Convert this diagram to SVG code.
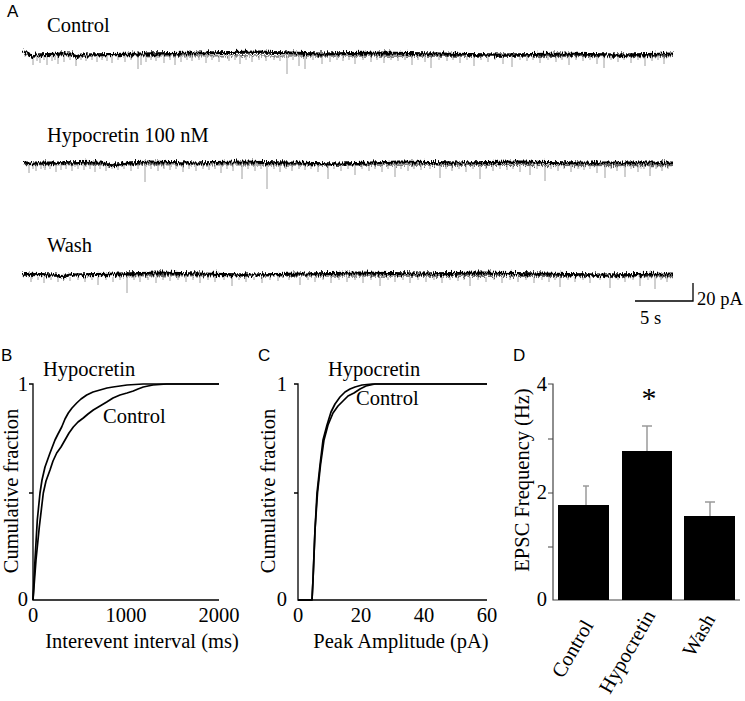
<svg xmlns="http://www.w3.org/2000/svg" width="745" height="701" viewBox="0 0 745 701">
<style>
 .t{font-family:"Liberation Serif","Times New Roman",serif;font-size:20.5px;fill:#000}
 .s{font-size:18.5px}
 .p{font-family:"Liberation Sans",Arial,sans-serif;font-size:17px;fill:#000}
 .ax{stroke:#000;stroke-width:1.3;fill:none}
 .axd{stroke:#444;stroke-width:1.2;fill:none}
 .cv{stroke:#000;stroke-width:1.7;fill:none;stroke-linejoin:round}
 .sp{stroke:#a0a0a0;stroke-width:1;fill:none}
 .tr{stroke:#000;stroke-width:3.1;fill:none}
 .fz{stroke:#666;stroke-width:1.4;fill:none}
 .eb{stroke:#9a9a9a;stroke-width:1.5;fill:none}
</style>
<defs>
 <filter id="jit" filterUnits="userSpaceOnUse" x="0" y="0" width="745" height="701">
  <feTurbulence type="fractalNoise" baseFrequency="1.1 0.15" numOctaves="2" seed="4" result="n"/>
  <feDisplacementMap in="SourceGraphic" in2="n" scale="7" xChannelSelector="R" yChannelSelector="G"/>
 </filter>
</defs>
<rect width="745" height="701" fill="#fff"/>

<g id="panelA">
 <text class="p" x="7" y="17">A</text>
 <text class="t" x="47" y="32">Control</text>
 <text class="t" x="47" y="142">Hypocretin 100 nM</text>
 <text class="t" x="47" y="252">Wash</text>

 <g id="trace1">
  <path class="sp" d="M33,56v9M37,56v5M40,56v7M44,56v4M47,56v9M52,56v5M55,56v4M58,56v8M64,56v6M70,56v4M76,56v10M81,56v4M86,56v5M92,56v4M97,56v6M102,56v4M107,56v5M112,56v7M118,56v4M125,56v6M131,56v4M138,56v13M141,56v9M146,56v6M151,56v4M156,56v5M164,56v7M170,56v4M175,56v9M181,56v6M187,56v4M192,56v5M199,56v4M206,56v7M212,56v4M219,56v6M229,56v5M235,56v4M240,56v8M246,56v4M252,56v6M259,56v4M266,56v5M274,56v4M280,56v5M287,56v18M293,56v4M299,56v10M305,56v13M313,56v4M322,56v8M330,56v6M337,56v4M343,56v5M349,56v4M355,56v8M363,56v4M371,56v6M377,56v4M384,56v7M391,56v4M398,56v5M405,56v4M412,56v9M418,56v4M425,56v6M431,56v12M439,56v4M447,56v5M453,56v4M460,56v7M467,56v4M474,56v10M481,56v4M488,56v6M495,56v4M503,56v8M512,56v11M520,56v4M527,56v5M533,56v4M540,56v7M548,56v4M556,56v6M562,56v4M569,56v9M576,56v4M583,56v5M590,56v4M597,56v8M604,56v12M611,56v4M618,56v6M624,56v4M631,56v7M638,56v4M645,56v10M652,56v5M658,56v4M664,56v8"/>
  <g filter="url(#jit)">
   <path class="fz" d="M23,55.5 L673,56.5"/>
   <path class="tr" d="M23,51 L27,52 L31,57 L35,55 L60,54 L73,54 L77,57 L81,55 L140,54 L200,53 L260,52 L320,54 L380,53 L440,54 L500,55 L560,54 L620,55 L673,54"/>
  </g>
 </g>

 <g id="trace2">
  <path class="sp" d="M29,165v8M33,165v4M36,165v6M41,165v4M45,165v5M50,165v4M56,165v7M61,165v5M66,165v4M72,165v6M78,165v4M84,165v5M90,165v4M95,165v7M100,165v4M106,165v6M112,165v4M118,165v5M124,165v4M131,165v6M138,165v4M145,165v17M151,165v4M158,165v6M164,165v4M170,165v5M176,165v4M183,165v7M189,165v4M196,165v6M203,165v4M209,165v5M215,165v4M221,165v8M227,165v4M233,165v6M242,165v14M248,165v4M255,165v6M261,165v4M267,165v24M274,165v4M280,165v7M286,165v4M292,165v6M299,165v4M305,165v5M311,165v4M318,165v7M328,165v14M334,165v4M341,165v6M348,165v4M355,165v10M362,165v4M369,165v6M375,165v4M382,165v7M388,165v4M395,165v12M401,165v4M408,165v6M414,165v4M421,165v5M430,165v4M440,165v13M446,165v4M452,165v6M459,165v4M466,165v7M473,165v4M480,165v14M486,165v4M493,165v6M500,165v4M507,165v5M513,165v4M520,165v7M530,165v10M537,165v4M545,165v16M551,165v4M558,165v6M564,165v4M571,165v7M578,165v4M584,165v5M590,165v4M597,165v8M605,165v13M611,165v4M617,165v6M625,165v12M631,165v4M638,165v7M644,165v4M650,165v11M656,165v4M662,165v6M668,165v4"/>
  <g filter="url(#jit)">
   <path class="fz" d="M23,164.5 L673,165.5"/>
   <path class="tr" d="M23,163 L60,163 L100,162 L112,166 L125,163 L150,162 L190,163 L240,162 L290,163 L340,164 L400,162 L460,163 L520,162 L580,163 L640,163 L673,163"/>
  </g>
 </g>

 <g id="trace3">
  <path class="sp" d="M31,277v5M38,277v3M44,277v6M51,277v3M58,277v5M64,277v3M70,277v4M78,277v3M85,277v5M92,277v3M98,277v8M106,277v3M113,277v5M120,277v3M127,277v16M134,277v3M140,277v5M148,277v3M156,277v6M163,277v3M170,277v4M178,277v3M186,277v5M193,277v3M200,277v6M208,277v3M215,277v5M224,277v3M232,277v9M239,277v3M246,277v5M254,277v3M262,277v6M270,277v3M278,277v4M289,277v3M300,277v8M308,277v3M315,277v5M323,277v3M331,277v6M339,277v3M347,277v5M355,277v3M363,277v6M371,277v3M380,277v9M388,277v3M395,277v5M403,277v3M410,277v6M418,277v3M426,277v5M434,277v3M442,277v6M450,277v3M458,277v4M464,277v3M470,277v9M478,277v3M486,277v5M494,277v3M502,277v6M510,277v3M518,277v5M526,277v3M534,277v6M542,277v3M549,277v5M555,277v3M560,277v10M568,277v3M575,277v5M583,277v3M590,277v6M600,277v3M610,277v11M618,277v3M625,277v5M633,277v3M640,277v9M648,277v3M655,277v12M661,277v3M667,277v5"/>
  <g filter="url(#jit)">
   <path class="fz" d="M23,275.5 L673,276.5"/>
   <path class="tr" d="M23,274 L55,275 L62,277 L70,275 L120,274 L160,273 L200,274 L250,275 L300,274 L360,273 L420,274 L480,273 L540,274 L600,275 L673,274"/>
  </g>
 </g>
</g>

<g id="scalebar">
 <path class="ax" d="M635,301 H693 V283"/>
 <text class="t s" x="697" y="305">20 pA</text>
 <text class="t s" x="640" y="324">5 s</text>
</g>

<g id="panelB">
 <text class="p" x="1" y="361">B</text>
 <path class="ax" d="M29,384 H33 V600 H219 M29,493 H33"/>
 <text class="t" x="28" y="391" text-anchor="end">1</text>
 <text class="t" x="28" y="606" text-anchor="end">0</text>
 <text class="t" x="33" y="622" text-anchor="middle">0</text>
 <text class="t" x="126" y="622" text-anchor="middle">1000</text>
 <text class="t" x="219" y="622" text-anchor="middle">2000</text>
 <text class="t" x="142" y="648" text-anchor="middle">Interevent interval (ms)</text>
 <text class="t" transform="translate(18,491) rotate(-90)" text-anchor="middle">Cumulative fraction</text>
 <text class="t" x="43" y="376">Hypocretin</text>
 <text class="t" x="103" y="423">Control</text>
 <path class="cv" d="M33,600 L35,560 L37.3,520 L40,493 L42,480 L45,467 L50,453 L55,440 L58,434 L61.7,427 L65,419 L68.3,413 L72,408 L76.7,403 L81,399 L86.7,395 L93,392 L100,390 L107,388 L113,387 L120,386 L127,385 L135,384.5 L143,384 L219,384"/>
 <path class="cv" d="M33,600 L36,560 L39.3,527 L43.3,493 L46,481 L50,470 L53,461 L56.7,453 L61,447 L65,440 L69,433 L73.3,427 L78,422 L83.3,418 L88,414 L93.3,410 L100,406 L106.7,402 L113,398 L120,395 L127,393 L133.3,391 L138,389 L143.3,387 L148,386 L153,385 L160,384.5 L166.7,384 L219,384"/>
</g>

<g id="panelC">
 <text class="p" x="258" y="361">C</text>
 <path class="ax" d="M294,384 H298 V600 H487 M294,493 H298"/>
 <text class="t" x="287" y="391" text-anchor="end">1</text>
 <text class="t" x="287" y="606" text-anchor="end">0</text>
 <text class="t" x="298" y="622" text-anchor="middle">0</text>
 <text class="t" x="361" y="622" text-anchor="middle">20</text>
 <text class="t" x="424" y="622" text-anchor="middle">40</text>
 <text class="t" x="487" y="622" text-anchor="middle">60</text>
 <text class="t" x="401" y="648" text-anchor="middle">Peak Amplitude (pA)</text>
 <text class="t" transform="translate(275,491) rotate(-90)" text-anchor="middle">Cumulative fraction</text>
 <text class="t" x="328" y="376">Hypocretin</text>
 <text class="t" x="356" y="405">Control</text>
 <path class="cv" d="M298,600 L312,600 L313,580 L315,530 L317,493 L320,465 L323,440 L327,425 L331,412 L335,404 L340,397 L345,392 L350,389 L355,387 L362,385 L372,384 L487,384"/>
 <path class="cv" d="M298,600 L312,600 L313,580 L315,530 L317.5,493 L320.5,465 L324,440 L328,425 L333,413 L338,406 L343,401 L348,396 L354,393 L360,389 L366,386 L375,384 L487,384"/>
</g>

<g id="panelD">
 <text class="p" x="513" y="361">D</text>
 <path class="axd" d="M548,384 H553 V600 H740 M548,439 H553 M548,493 H553 M548,547 H553"/>
 <text class="t" x="547" y="391" text-anchor="end">4</text>
 <text class="t" x="547" y="499" text-anchor="end">2</text>
 <text class="t" x="547" y="606" text-anchor="end">0</text>
 <text class="t" transform="translate(529,480) rotate(-90)" text-anchor="middle">EPSC Frequency (Hz)</text>
 <path class="eb" d="M586,505 V486 M583,486 H589 M647,451 V426 M642,426 H652 M710,516 V502 M705,502 H715"/>
 <rect x="558" y="505" width="51" height="95" fill="#000"/>
 <rect x="622" y="451" width="50" height="149" fill="#000"/>
 <rect x="684" y="516" width="51" height="84" fill="#000"/>
 <text class="t" x="649" y="408" text-anchor="middle" style="font-size:30px">*</text>
 <text class="t" transform="translate(594,625) rotate(-60)" text-anchor="end">Control</text>
 <text class="t" transform="translate(656,615) rotate(-60)" text-anchor="end">Hypocretin</text>
 <text class="t" transform="translate(716,619) rotate(-60)" text-anchor="end">Wash</text>
</g>
</svg>
